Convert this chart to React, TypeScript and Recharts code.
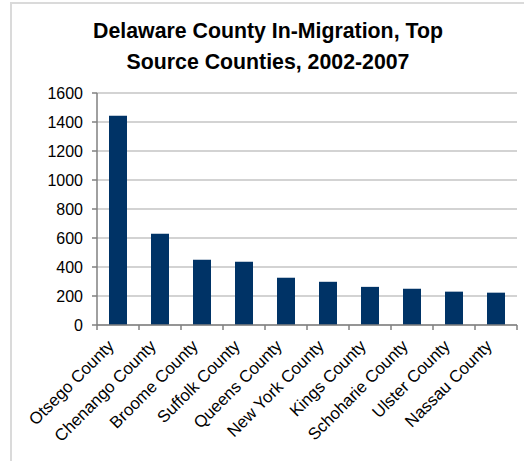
import React from "react";
import { BarChart, Bar, XAxis, YAxis, CartesianGrid } from "recharts";

const counties = [
  "Otsego County",
  "Chenango County",
  "Broome County",
  "Suffolk County",
  "Queens County",
  "New York County",
  "Kings County",
  "Schoharie County",
  "Ulster County",
  "Nassau County",
];
const migrants = [1443, 629, 450, 436, 326, 298, 263, 250, 230, 223];
const yTicks = [0, 200, 400, 600, 800, 1000, 1200, 1400, 1600];
const titleLines = ["Delaware County In-Migration, Top", "Source Counties, 2002-2007"];

const data = counties.map((name, i) => ({ name, value: migrants[i] }));

const FONT = "'Liberation Sans', Arial, sans-serif";
const AXIS_GRAY = "#808080";

const CountyTick = (props: any) => {
  const { x, y, payload, index, visibleTicksCount } = props;
  const half = payload && payload.offset ? payload.offset : 0;
  const ax = x - 3;
  const ay = y + 22;
  const isLast = index === (visibleTicksCount ?? counties.length) - 1;
  return (
    <g>
      <line x1={x - half} x2={x - half} y1={y} y2={y + 5} stroke={AXIS_GRAY} strokeWidth={1.5} />
      {isLast && (
        <line x1={x + half} x2={x + half} y1={y} y2={y + 5} stroke={AXIS_GRAY} strokeWidth={1.5} />
      )}
      <text
        x={ax}
        y={ay}
        transform={`rotate(-45, ${ax}, ${ay})`}
        textAnchor="end"
        fontSize={16.8}
        fontFamily={FONT}
        fill="#000"
      >
        {payload.value}
      </text>
    </g>
  );
};

export default function App() {
  return (
    <div
      style={{
        position: "absolute",
        left: 0,
        top: 0,
        width: 524,
        height: 461,
        overflow: "hidden",
        background: "#fff",
        fontFamily: FONT,
      }}
    >
      <div
        style={{
          position: "absolute",
          left: 10,
          top: 2,
          width: 540,
          height: 500,
          border: "2px solid #dadada",
        }}
      />
      <div
        style={{
          position: "absolute",
          left: 12,
          top: 16,
          width: 512,
          textAlign: "center",
          fontSize: 21.3,
          fontWeight: "bold",
          lineHeight: "31px",
          color: "#000",
        }}
      >
        {titleLines.map((t) => (
          <div key={t}>{t}</div>
        ))}
      </div>
      <div style={{ position: "absolute", left: 0, top: 0 }}>
        <BarChart
          width={524}
          height={461}
          data={data}
          margin={{ top: 93, right: 7, left: 0, bottom: 6 }}
          barCategoryGap={0}
        >
          <CartesianGrid vertical={false} stroke="#c4c4c4" strokeWidth={1.5} />
          <XAxis
            dataKey="name"
            interval={0}
            height={130}
            tickLine={false}
            axisLine={{ stroke: AXIS_GRAY, strokeWidth: 1.5 }}
            tickSize={0}
            tickMargin={0}
            tick={<CountyTick />}
          />
          <YAxis
            width={97}
            domain={[0, 1600]}
            ticks={yTicks}
            interval={0}
            tickSize={5}
            tickMargin={9}
            axisLine={{ stroke: AXIS_GRAY, strokeWidth: 1.5 }}
            tickLine={{ stroke: AXIS_GRAY, strokeWidth: 1.5 }}
            tick={{ fontSize: 16, fill: "#000", fontFamily: FONT }}
          />
          <Bar dataKey="value" fill="#003366" barSize={18} isAnimationActive={false} />
        </BarChart>
      </div>
    </div>
  );
}
